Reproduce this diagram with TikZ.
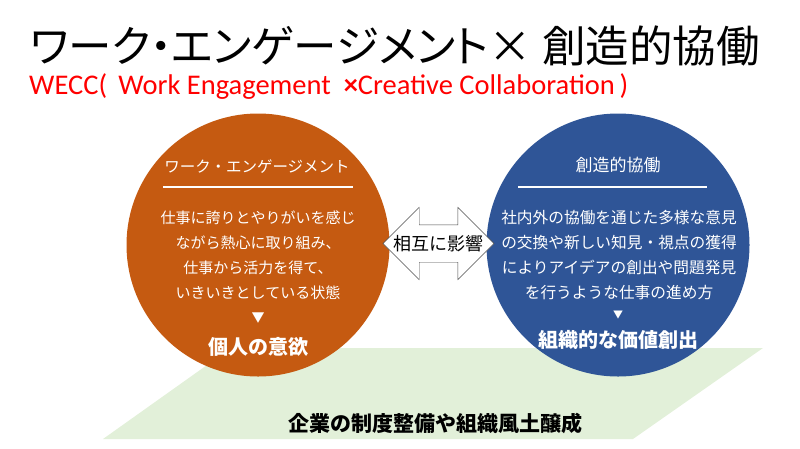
\documentclass[tikz,border=0pt]{standalone}
\usepackage{fontspec}
\setmainfont{Noto Sans CJK JP}
\newfontfamily\jpfont{Noto Sans CJK JP}
\newfontfamily\latinfont{Carlito}
\usetikzlibrary{shapes.arrows,positioning,calc}
\definecolor{weorange}{RGB}{197,90,17}
\definecolor{ccblue}{RGB}{47,85,151}
\definecolor{basegreen}{RGB}{226,240,217}

\begin{document}
\begin{tikzpicture}[x=1pt,y=-1pt]
\tikzstyle{bigcircle} = [circle, minimum size=263pt, inner sep=0pt]
\tikzset{headtext/.style={text=white, inner sep=0pt, font=\fontsize{15.5}{18}\selectfont}}
\tikzset{bodytext/.style={text=white, inner sep=0pt, align=center, font=\fontsize{15}{25}\selectfont}}
\tikzset{resulttext/.style={text=white, inner sep=0pt, font=\bfseries\fontsize{20}{24}\selectfont}}
\useasboundingbox (0,0) rectangle (800,448);

% title lines
\node[anchor=west, inner sep=0pt, font=\fontsize{43.5}{46}\selectfont\addfontfeatures{RawFeature=+palt}] (title) at (30,46) {ワーク・エンゲージメント×\ 創造的協働};
\node[anchor=west, inner sep=0pt, text=red, font=\latinfont\fontsize{28.5}{30}\selectfont] (subtitle) at (29,87) {WECC(\ \,Work Engagement \ {\bfseries ×}Creative Collaboration\,)};

% green base under the circles
\fill[basegreen] (103,439) -- (633,439) -- (763,348) -- (231,348) -- cycle;
\node[inner sep=0pt, font=\bfseries\fontsize{21}{24}\selectfont] (base) at (435,423) {企業の制度整備や組織風土醸成};

% left circle
\node[bigcircle, fill=weorange] (we) at (258,245) {};
\node[headtext] (wehead) at (257,167) {ワーク・エンゲージメント};
\draw[white, line width=2.5pt] ($(we.center)+(-95,-58)$) -- ($(we.center)+(95,-58)$);
\node[bodytext] (webody) at (258,255.5) {仕事に誇りとやりがいを感じ\\ながら熱心に取り組み、\\仕事から活力を得て、\\いきいきとしている状態};
\node[text=white, inner sep=0pt, font=\fontsize{13}{13}\selectfont] (wemark) at (258,318) {▼};
\node[resulttext] (weresult) at (258,347) {個人の意欲};

% right circle
\node[bigcircle, fill=ccblue] (cc) at (618,245) {};
\node[headtext, font=\fontsize{17}{20}\selectfont] (cchead) at (618,165) {創造的協働};
\draw[white, line width=2.5pt] ($(cc.center)+(-100,-58)$) -- ($(cc.center)+(89,-58)$);
\node[bodytext, font=\fontsize{15.7}{25}\selectfont] (ccbody) at (619,255.5) {社内外の協働を通じた多様な意見\\の交換や新しい知見・視点の獲得\\によりアイデアの創出や問題発見\\を行うような仕事の進め方};
\node[text=white, inner sep=0pt, font=\fontsize{10}{10}\selectfont] (ccmark) at (618,315) {▼};
\node[resulttext] (ccresult) at (618,340) {組織的な価値創出};

% double arrow between them
\node[double arrow, draw=black!70, fill=white, minimum height=111pt, inner xsep=0pt, inner ysep=18.5pt, double arrow head extend=17.5pt] (mutual) at (438.5,243.5) {};
\node[inner sep=0pt, font=\fontsize{18}{20}\selectfont] (mutuallabel) at (mutual.center) {相互に影響};
\end{tikzpicture}
\end{document}
